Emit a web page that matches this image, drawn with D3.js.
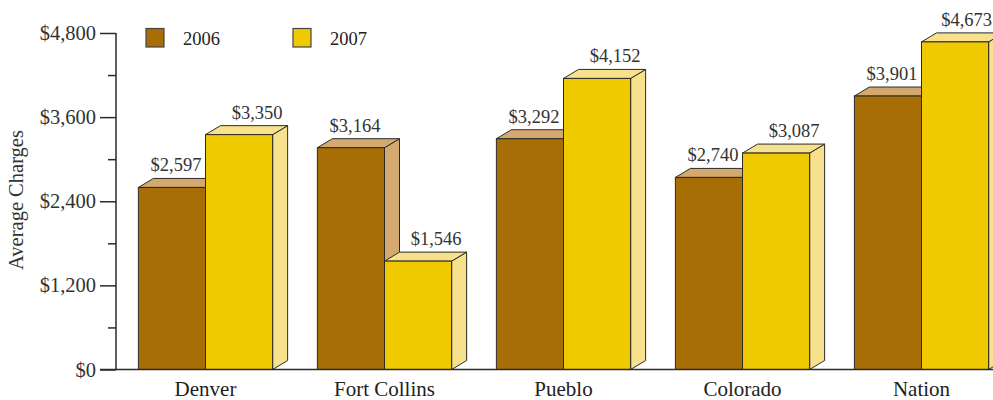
<!DOCTYPE html>
<html>
<head>
<meta charset="utf-8">
<script src="https://cdn.jsdelivr.net/npm/d3@7"></script>
<style>
  html, body { margin: 0; padding: 0; background: #fff; }
  svg { display: block; font-family: "Liberation Serif", "DejaVu Serif", serif; }
</style>
</head>
<body>
<svg id="chart" width="993" height="400"></svg>
<script>
// Average charges by location, two years
const categories = ["Denver", "Fort Collins", "Pueblo", "Colorado", "Nation"];
const years = ["2006", "2007"];
const values2006 = [2597, 3164, 3292, 2740, 3901];
const values2007 = [3350, 1546, 4152, 3087, 4673];
const yTicks = [0, 1200, 2400, 3600, 4800];
const yMinorTicks = [600, 1800, 3000, 4200];

const palette = {
  "2006": { front: "#A86E06", light: "#D4A970", labelShift: 4 },
  "2007": { front: "#F0CA00", light: "#F8E18C", labelShift: 18 }
};

const W = 993;
const svg = d3.select("#chart");
const depthX = 15, depthY = 9;
const outline = "#2a2a2a";
const fmt = d => "$" + d3.format(",")(d);

const x = d3.scaleBand().domain(categories).range([116, 1011])
  .paddingInner(0.25).paddingOuter(0.125);
const sub = d3.scaleBand().domain(years).range([0, x.bandwidth()]);
const y = d3.scaleLinear().domain([0, 4800]).range([369.5, 33]);

const rows = categories.map((c, i) => ({ cat: c, vals: [values2006[i], values2007[i]] }));

// bars (drawn left to right so later fronts overlap earlier sides)
const bars = svg.append("g");
const labels = svg.append("g");
rows.forEach(r => {
  years.forEach((yr, j) => {
    const v = r.vals[j];
    const x0 = x(r.cat) + sub(yr), w = sub.bandwidth();
    const x1 = x0 + w, yt = y(v), yb = y(0);
    const g = bars.append("g");
    // right side face
    g.append("path")
      .attr("d", `M${x1},${yt}L${x1 + depthX},${yt - depthY}L${x1 + depthX},${yb - depthY}L${x1},${yb}Z`)
      .attr("fill", palette[yr].light).attr("stroke", outline).attr("stroke-width", 1)
      .attr("stroke-linejoin", "round");
    // top face
    g.append("path")
      .attr("d", `M${x0},${yt}L${x0 + depthX},${yt - depthY}L${x1 + depthX},${yt - depthY}L${x1},${yt}Z`)
      .attr("fill", palette[yr].light).attr("stroke", outline).attr("stroke-width", 1)
      .attr("stroke-linejoin", "round");
    // front face
    g.append("rect")
      .attr("x", x0).attr("y", yt).attr("width", w).attr("height", yb - yt)
      .attr("fill", palette[yr].front).attr("stroke", outline).attr("stroke-width", 1);
    // value label, kept inside the drawing area
    const t = labels.append("text")
      .attr("x", x0 + w / 2 + palette[yr].labelShift)
      .attr("y", yt - depthY - 7)
      .attr("text-anchor", "middle")
      .attr("font-size", 18.5)
      .attr("fill", "#333")
      .text(fmt(v));
    const bb = t.node().getBBox();
    if (bb.x + bb.width > W - 1) {
      t.attr("text-anchor", "end").attr("x", W - 1);
    }
  });
});

// y axis
const yAxisG = svg.append("g").attr("transform", "translate(116,0)");
yAxisG.call(d3.axisLeft(y).tickValues(yTicks).tickFormat(fmt).tickSize(16).tickPadding(4))
  .call(g => g.select(".domain").remove());
yAxisG.selectAll(".tick line").attr("stroke", outline).attr("stroke-width", 1.5);
yAxisG.selectAll(".tick text").attr("font-size", 20.5).attr("fill", "#333")
  .attr("font-family", "Liberation Serif, serif");
yAxisG.append("g").call(d3.axisLeft(y).tickValues(yMinorTicks).tickFormat("").tickSize(8))
  .call(g => g.select(".domain").remove())
  .selectAll("line").attr("stroke", outline).attr("stroke-width", 1.5);
yAxisG.append("line").attr("x1", 0).attr("x2", 0).attr("y1", y(4800)).attr("y2", y(0))
  .attr("stroke", outline).attr("stroke-width", 1.5);

// baseline
svg.append("line").attr("x1", 100).attr("x2", W).attr("y1", y(0)).attr("y2", y(0))
  .attr("stroke", outline).attr("stroke-width", 1.5);

// category labels
svg.append("g").selectAll("text").data(categories).join("text")
  .attr("x", d => x(d) + x.bandwidth() / 2)
  .attr("y", 396)
  .attr("text-anchor", "middle")
  .attr("font-size", 21)
  .attr("fill", "#222")
  .text(d => d);

// axis title
svg.append("text")
  .attr("transform", "translate(23,200) rotate(-90)")
  .attr("text-anchor", "middle")
  .attr("font-size", 20.5)
  .attr("fill", "#333")
  .text("Average Charges");

// legend
const legend = svg.append("g");
years.forEach((yr, i) => {
  const lx = 146 + i * 147;
  legend.append("rect").attr("x", lx).attr("y", 28.5).attr("width", 18).attr("height", 18.5)
    .attr("fill", palette[yr].front).attr("stroke", "#444").attr("stroke-width", 1.2);
  legend.append("text").attr("x", lx + 37).attr("y", 45)
    .attr("font-size", 18.5).attr("fill", "#222").text(yr);
});
</script>
</body>
</html>
